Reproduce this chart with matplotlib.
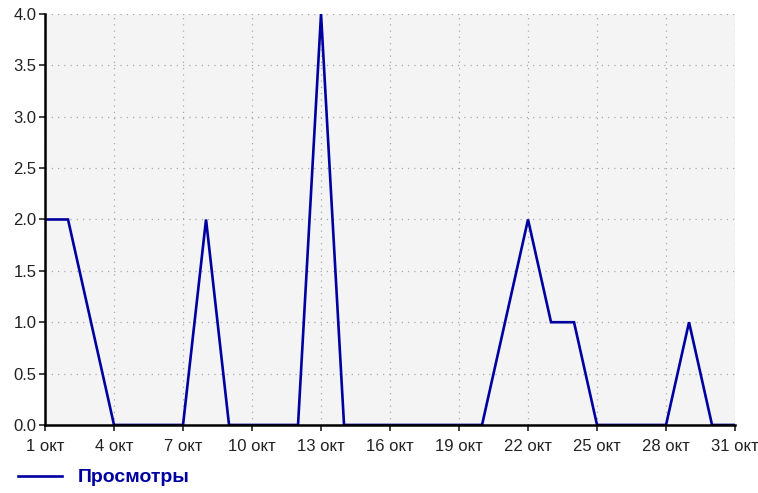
import matplotlib.pyplot as plt
from matplotlib.lines import Line2D

# Views per day, October
days = list(range(1, 32))
views = [2, 2, 1, 0, 0, 0, 0, 2, 0, 0, 0, 0, 4, 0, 0, 0, 0, 0, 0, 0,
         1, 2, 1, 1, 0, 0, 0, 0, 1, 0, 0]
tick_days = [1, 4, 7, 10, 13, 16, 19, 22, 25, 28, 31]
tick_labels = [f"{d} окт" for d in tick_days]
y_ticks = [0.0, 0.5, 1.0, 1.5, 2.0, 2.5, 3.0, 3.5, 4.0]
line_color = "#0000a0"

plt.rcParams['font.family'] = ['Liberation Sans', 'DejaVu Sans']
fig = plt.figure(figsize=(7.58, 4.93), dpi=100)
ax = fig.add_axes([0.0594, 0.138, 0.9103, 0.8336])
ax.set_facecolor("#f4f4f4")

ax.plot(days, views, color=line_color, linewidth=1.9, solid_joinstyle='miter')

ax.set_xlim(1, 31)
ax.set_ylim(0, 4)
ax.set_xticks(tick_days)
ax.set_xticklabels(tick_labels)
ax.set_yticks(y_ticks)
ax.set_yticklabels([f"{v:.1f}" for v in y_ticks])
ax.tick_params(labelsize=12, colors="#222222", length=4, width=1.2, direction='out')
ax.tick_params(axis='x', pad=6)
ax.tick_params(axis='y', pad=2)

ax.grid(True, color="#aaaaaa", linestyle=(0, (1, 4)), linewidth=0.9)
ax.set_axisbelow(True)
for s in ['top', 'right']:
    ax.spines[s].set_visible(False)
for s in ['left', 'bottom']:
    ax.spines[s].set_linewidth(1.8)
    ax.spines[s].set_color("black")

handle = Line2D([], [], color=line_color, linewidth=1.9)
leg = fig.legend([handle], ["Просмотры"], loc='lower left', bbox_to_anchor=(0.0, -0.022),
                 frameon=False, handlelength=2.3, handletextpad=0.8,
                 prop={'weight': 'bold', 'size': 14})
for t in leg.get_texts():
    t.set_color(line_color)

fig.savefig("out.png", dpi=100)
